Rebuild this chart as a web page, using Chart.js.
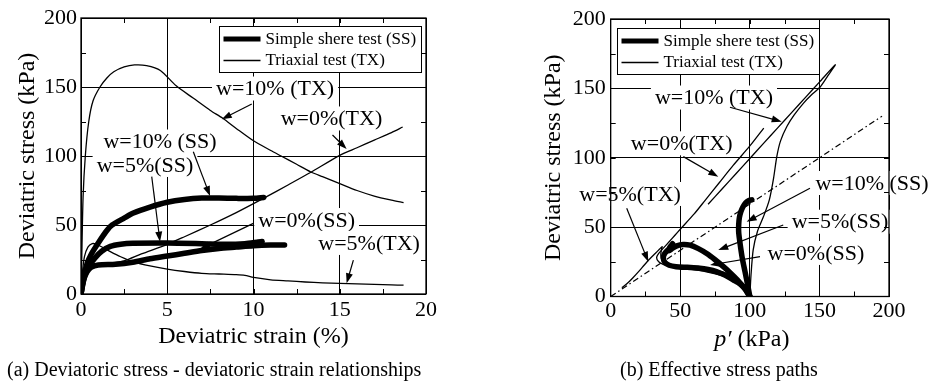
<!DOCTYPE html>
<html>
<head>
<meta charset="utf-8">
<script src="https://cdn.jsdelivr.net/npm/chart.js@4.4.1/dist/chart.umd.min.js"></script>
<style>
  body { margin: 0; background: #fff; width: 932px; height: 383px; position: relative; overflow: hidden;
         font-family: 'Liberation Serif', 'Times New Roman', serif; }
  canvas { position: absolute; top: 0; }
  .cap { position: absolute; top: 357px; font-size: 20px; line-height: 24px; white-space: nowrap; color: #000; }
</style>
</head>
<body>
<canvas id="chartA" width="526" height="383" style="left:0"></canvas>
<canvas id="chartB" width="406" height="383" style="left:526px"></canvas>
<div class="cap" style="left:7px">(a) Deviatoric stress - deviatoric strain relationships</div>
<div class="cap" style="left:620px">(b) Effective stress paths</div>
<script>
const FONT = "'Liberation Serif', 'Times New Roman', serif";
Chart.defaults.font.family = FONT;
Chart.defaults.color = '#000';

// ---- (a) deviatoric strain (%) vs deviatoric stress (kPa)
const a_tx10_x = [0, 0.05, 0.12, 0.25, 0.45, 0.7, 1.1, 1.5, 1.9, 2.5, 3.1, 3.8, 4.6, 5.5, 6.5, 7.5, 8.2, 9, 10, 11, 11.6, 12.5, 13.3, 14, 15, 16, 17, 18, 18.7];
const a_tx10_y = [0, 30, 70, 100, 125, 140, 150, 156.5, 161, 164.5, 166, 165.5, 162, 151, 142, 133, 127.5, 120, 111, 104, 100, 94, 88.6, 85, 80, 75, 71, 68, 66.2];
const a_tx0_x = [0, 0.1, 0.3, 0.6, 1, 1.8, 2.5, 3.5, 5, 6, 7.5, 9, 10.6, 12, 13.3, 15, 16, 17, 18, 18.65];
const a_tx0_y = [0, 8, 15, 19, 21, 22.5, 24, 29, 36, 41.5, 50, 59, 69.5, 79, 88, 100.5, 106, 111.5, 117, 121];
const a_tx5_x = [0, 0.08, 0.2, 0.4, 0.65, 0.9, 1.3, 1.7, 2.3, 3, 4, 5, 6, 7, 8, 9, 9.5, 10, 11, 12, 13, 14, 15, 16, 17, 18, 18.7];
const a_tx5_y = [0, 15, 27, 34, 36.5, 36, 33.5, 30.7, 27, 23.5, 20.3, 18, 16.3, 15, 14.5, 14, 13.5, 12, 10.3, 9.5, 8.7, 8.1, 7.7, 7.4, 7, 6.6, 6.4];
const a_ss10_x = [0, 0.15, 0.35, 0.6, 1, 1.5, 1.8, 2.5, 3, 4, 5, 6, 7, 8, 9, 10, 10.6];
const a_ss10_y = [0, 12, 22, 29, 37, 46, 50, 55, 58.5, 63, 66.5, 68.5, 69.5, 69.5, 69.3, 69.3, 70];
const a_ss5_x = [0, 0.15, 0.4, 0.8, 1.2, 1.7, 2.3, 3, 5, 7, 8.5, 9.5, 10.2, 10.5];
const a_ss5_y = [0, 10, 19, 26, 31, 34.5, 36, 36.7, 37, 36.5, 36, 36.5, 37.5, 38];
const a_ss0_x = [0, 0.15, 0.35, 0.6, 1, 2, 3, 4, 5, 6, 7, 8, 9, 10, 11, 11.8];
const a_ss0_y = [0, 10, 16, 19.5, 21, 21.5, 23, 25.5, 27.5, 29.5, 31.5, 33, 34, 35, 35.5, 35.5];

// ---- (b) effective stress paths p' (kPa) vs q (kPa)
const b_tx10_p = [100, 100.8, 102.4, 105.5, 109.8, 114, 117, 119.4, 122, 126.6, 132, 138.6, 144, 150.5, 156, 161.4, 150, 140, 130, 120, 110, 100, 90, 80, 70];
const b_tx10_q = [0, 15, 33.6, 47, 57.6, 69.7, 85, 101, 112, 122.5, 131, 139.4, 145, 151, 159, 167, 154.5, 143.5, 132.5, 121.5, 110.5, 99.5, 88.5, 77.5, 66.5];
const b_tx0_p = [100, 97, 92, 85, 75, 62, 50, 43, 38, 34.5, 33, 34.5, 38, 42, 46, 50, 60, 68, 78, 88, 100, 110];
const b_tx0_q = [0, 7, 12, 16, 19, 20.5, 21.5, 22, 23, 25, 28, 31, 35, 39.5, 44, 48.5, 59.5, 69.5, 82, 94.5, 108.5, 121.4];
const b_tx5_p = [100, 96, 90, 80, 68, 55, 45, 40, 37, 36, 36.5, 37, 35, 32, 28, 24, 21, 16, 12, 8];
const b_tx5_q = [0, 6, 11, 15, 18, 20, 21.5, 23, 26, 30, 34, 36, 34, 31, 27, 22.5, 19, 13.5, 9.5, 6.4];
const b_ss10_p = [100, 98.5, 96.5, 94.5, 93, 92, 92, 92.5, 93.5, 95, 97, 99, 101.4];
const b_ss10_q = [0, 8, 18, 28, 38, 46, 52, 57, 61, 64.5, 67.5, 69, 69.7];
const b_ss5_p = [100, 96, 91, 86, 81, 75, 69, 63, 57, 52, 47.5, 44, 42, 42.5, 44.5];
const b_ss5_q = [0, 6, 12, 17, 21.5, 26.5, 31, 34.5, 37, 37.5, 36.5, 34.5, 33, 35.5, 38];
const b_ss0_p = [100, 97, 93, 88, 82, 76, 70, 64, 55, 47, 42, 39, 37.8, 38.5, 40.5, 43.5];
const b_ss0_q = [0, 5, 9, 12, 15.5, 18, 19.5, 20.4, 21, 21.5, 22.5, 24.5, 27.5, 30.5, 33, 35.5];
const b_line_p = [0, 195];
const b_line_q = [0, 130];

const tickVals = [0, 50, 100, 150, 200];
const strainTickVals = [0, 5, 10, 15, 20];
const legendText = ['Simple shere test (SS)', 'Triaxial test (TX)'];

// annotation texts, where they sit and where their arrows go (data units)
const a_notes = ['w=10% (TX)', 'w=0%(TX)', 'w=10% (SS)', 'w=5%(SS)', 'w=0%(SS)', 'w=5%(TX)'];
const a_noteAt = [[11.25, 148.9], [14.52, 127.2], [4.58, 110.5], [3.71, 93.5], [13.08, 53.6], [16.7, 37]];
const a_arrows = [[9.9, 137.7, 8.16, 126.6], [14.58, 115.2, 15.4, 105.1], [6.51, 103.1, 7.48, 71], [4.1, 85, 4.58, 37.9], [9.99, 51.2, 6.9, 32.6], [15.79, 24.6, 15.4, 7.8]];
const b_notes = ['w=10% (TX)', 'w=0%(TX)', 'w=5%(TX)', 'w=10% (SS)', 'w=5%(SS)', 'w=0%(SS)'];
const b_noteAt = [[74.2, 143.4], [51, 110.4], [13.9, 73.9], [187.8, 81.8], [164.8, 53.9], [147.5, 31.4]];
const b_arrows = [[85.7, 136.4, 122.9, 126], [52.2, 100.8, 77.3, 86.3], [11.5, 63.6, 27, 25.1], [143.2, 78, 97.7, 53.9], [124, 51.5, 77.3, 33.5], [107.3, 28.7, 71.4, 22.7]];

const pts = (xs, ys) => xs.map((x, i) => ({ x, y: ys[i] }));
function series(xs, ys, kind) {
  const ds = { data: pts(xs, ys), borderColor: '#000', pointRadius: 0, showLine: true, fill: false, tension: 0.25 };
  if (kind === 'ss') Object.assign(ds, { borderWidth: 5.5, borderCapStyle: 'round', borderJoinStyle: 'round' });
  else if (kind === 'dash') Object.assign(ds, { borderWidth: 1.2, borderDash: [6, 3, 1.5, 3], tension: 0 });
  else Object.assign(ds, { borderWidth: 1.3 });
  return ds;
}

const notesPlugin = {
  id: 'notes',
  beforeDatasetsDraw(chart, args, o) {
    const { ctx, scales: { x, y } } = chart;
    ctx.save();
    ctx.font = '22px ' + FONT;
    ctx.textAlign = 'center';
    ctx.textBaseline = 'middle';
    o.texts.forEach((t, i) => {
      const cx = x.getPixelForValue(o.at[i][0]), cy = y.getPixelForValue(o.at[i][1]);
      const w = ctx.measureText(t).width;
      ctx.fillStyle = '#fff';
      ctx.fillRect(cx - w / 2 - 4, cy - 12, w + 8, 24);
      ctx.fillStyle = '#000';
      ctx.fillText(t, cx, cy + 1);
    });
    ctx.strokeStyle = '#000';
    ctx.lineWidth = 1.2;
    o.arrows.forEach(a => {
      const x0 = x.getPixelForValue(a[0]), y0 = y.getPixelForValue(a[1]);
      const x1 = x.getPixelForValue(a[2]), y1 = y.getPixelForValue(a[3]);
      const ang = Math.atan2(y1 - y0, x1 - x0), c = Math.cos(ang), s = Math.sin(ang);
      ctx.beginPath();
      ctx.moveTo(x0, y0);
      ctx.lineTo(x1 - 6 * c, y1 - 6 * s);
      ctx.stroke();
      ctx.beginPath();
      ctx.moveTo(x1, y1);
      ctx.lineTo(x1 - 10 * c + 3.5 * s, y1 - 10 * s - 3.5 * c);
      ctx.lineTo(x1 - 10 * c - 3.5 * s, y1 - 10 * s + 3.5 * c);
      ctx.closePath();
      ctx.fillStyle = '#000';
      ctx.fill();
    });
    ctx.restore();
  }
};

const framePlugin = {
  id: 'frame',
  afterDatasetsDraw(chart, args, o) {
    const { ctx, chartArea: { left, right, top, bottom }, scales: { x, y } } = chart;
    ctx.save();
    ctx.strokeStyle = '#000';
    ctx.lineWidth = 1.3;
    ctx.strokeRect(left, top, right - left, bottom - top);
    ctx.lineWidth = 1;
    ctx.beginPath();
    for (let v = x.min + o.minorX; v < x.max; v += o.minorX) {
      const px = Math.round(x.getPixelForValue(v)) + 0.5;
      ctx.moveTo(px, bottom); ctx.lineTo(px, bottom - 5);
      ctx.moveTo(px, top); ctx.lineTo(px, top + 5);
    }
    for (let v = y.min + o.minorY; v < y.max; v += o.minorY) {
      const py = Math.round(y.getPixelForValue(v)) + 0.5;
      ctx.moveTo(left, py); ctx.lineTo(left + 5, py);
      ctx.moveTo(right, py); ctx.lineTo(right - 5, py);
    }
    ctx.stroke();

    // legend box
    const bx = Math.round(left + o.keyX) + 0.5, by = Math.round(top + o.keyY) + 0.5;
    ctx.fillStyle = '#fff';
    ctx.fillRect(bx, by, 202, 46);
    ctx.lineWidth = 1;
    ctx.strokeRect(bx, by, 202, 46);
    ctx.lineWidth = 5;
    ctx.beginPath(); ctx.moveTo(bx + 4, by + 12.5); ctx.lineTo(bx + 41, by + 12.5); ctx.stroke();
    ctx.lineWidth = 1.3;
    ctx.beginPath(); ctx.moveTo(bx + 4, by + 34); ctx.lineTo(bx + 41, by + 34); ctx.stroke();
    ctx.fillStyle = '#000';
    ctx.font = '17px ' + FONT;
    ctx.textAlign = 'left';
    ctx.textBaseline = 'middle';
    ctx.fillText(legendText[0], bx + 46, by + 13);
    ctx.fillText(legendText[1], bx + 46, by + 34.5);

    if (o.pTitle) {
      const cx = (left + right) / 2 + 2, cy = o.pTitle;
      ctx.font = 'italic 24px ' + FONT;
      const w1 = ctx.measureText('p′').width;
      ctx.font = '24px ' + FONT;
      const w2 = ctx.measureText(' (kPa)').width;
      const sx = cx - (w1 + w2) / 2;
      ctx.font = 'italic 24px ' + FONT;
      ctx.fillText('p′', sx, cy);
      ctx.font = '24px ' + FONT;
      ctx.fillText(' (kPa)', sx + w1, cy);
    }
    ctx.restore();
  }
};

function makeChart(id, datasets, cfg) {
  return new Chart(document.getElementById(id), {
    type: 'scatter',
    data: { datasets },
    plugins: [notesPlugin, framePlugin],
    options: {
      responsive: false,
      animation: false,
      layout: { padding: cfg.padding },
      plugins: {
        legend: { display: false },
        tooltip: { enabled: false },
        notes: { texts: cfg.notes, at: cfg.noteAt, arrows: cfg.arrows },
        frame: { minorX: cfg.minorX, minorY: cfg.minorY, keyX: cfg.keyX, keyY: cfg.keyY, pTitle: cfg.pTitle }
      },
      scales: {
        x: {
          type: 'linear', min: 0, max: cfg.xMax,
          afterBuildTicks: s => { s.ticks = cfg.xTicks.map(v => ({ value: v })); },
          afterFit: s => { s.height = 60; },
          ticks: { font: { size: 22 }, padding: cfg.xPad, color: '#000' },
          grid: { color: '#000', lineWidth: 1, drawTicks: false },
          border: { display: false },
          title: { display: !!cfg.xTitle, text: cfg.xTitle, font: { size: 24, lineHeight: 1.2 }, padding: { top: 0, bottom: 2.6 } }
        },
        y: {
          type: 'linear', min: 0, max: 200,
          afterBuildTicks: s => { s.ticks = tickVals.map(v => ({ value: v })); },
          afterFit: s => { s.width = cfg.yWidth; },
          ticks: { font: { size: 22 }, padding: cfg.yPad, color: '#000' },
          grid: { color: '#000', lineWidth: 1, drawTicks: false },
          border: { display: false },
          title: { display: true, text: 'Deviatric stress (kPa)', font: { size: 24, lineHeight: 1.2 }, padding: { top: 13, bottom: 0 } }
        }
      }
    }
  });
}

makeChart('chartA', [
  series(a_tx10_x, a_tx10_y, 'tx'),
  series(a_tx0_x, a_tx0_y, 'tx'),
  series(a_tx5_x, a_tx5_y, 'tx'),
  series(a_ss10_x, a_ss10_y, 'ss'),
  series(a_ss5_x, a_ss5_y, 'ss'),
  series(a_ss0_x, a_ss0_y, 'ss')
], {
  padding: { left: 0, right: 100, top: 18, bottom: 29 },
  xMax: 20, xTicks: strainTickVals, xTitle: 'Deviatric strain (%)', xPad: 3, yPad: 4, yWidth: 81,
  minorX: 2.5, minorY: 25, keyX: 138, keyY: 8,
  notes: a_notes, noteAt: a_noteAt, arrows: a_arrows
});

makeChart('chartB', [
  series(b_line_p, b_line_q, 'dash'),
  series(b_tx10_p, b_tx10_q, 'tx'),
  series(b_tx0_p, b_tx0_q, 'tx'),
  series(b_tx5_p, b_tx5_q, 'tx'),
  series(b_ss10_p, b_ss10_q, 'ss'),
  series(b_ss5_p, b_ss5_q, 'ss'),
  series(b_ss0_p, b_ss0_q, 'ss')
], {
  padding: { left: 0, right: 43, top: 19, bottom: 26.5 },
  xMax: 200, xTicks: tickVals, xTitle: '', xPad: 2, yPad: 5, yWidth: 84.7,
  minorX: 25, minorY: 25, keyX: 6.6, keyY: 9.3, pTitle: 340,
  notes: b_notes, noteAt: b_noteAt, arrows: b_arrows
});
</script>
</body>
</html>
